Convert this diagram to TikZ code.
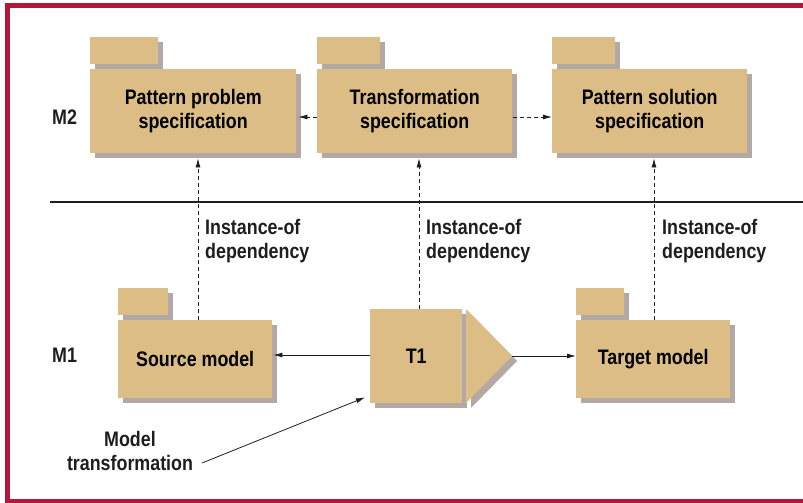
\documentclass[tikz,border=0pt]{standalone}
\usepackage{fontspec}
\setmainfont{Liberation Sans}[FakeStretch=0.85]
\usetikzlibrary{arrows.meta,shadows}
\definecolor{pkgfill}{HTML}{DCBD85}
\definecolor{pkgshade}{HTML}{B4A8A5}
\definecolor{framered}{HTML}{B5173A}
\definecolor{ink}{HTML}{1E1E1E}
\newcommand{\lbl}{\fontsize{21}{24}\selectfont\bfseries}

\begin{document}
\begin{tikzpicture}[x=1pt,y=-1pt,
  shade5/.style={drop shadow={shadow xshift=5pt,shadow yshift=-5pt,fill=pkgshade,opacity=1}},
  pkgbox/.style={shade5,fill=pkgfill,inner sep=0pt,align=center,font=\lbl,anchor=north west},
  pkgtab/.style={shade5,fill=pkgfill,inner sep=0pt,anchor=south west,minimum height=27pt},
  txt/.style={font=\lbl,align=left,inner sep=0pt,text=ink},
  dep/.style={draw=ink,line width=0.8pt,dash pattern=on 4pt off 3pt,-{Latex[length=9pt,width=5pt]}},
  flow/.style={draw=ink,line width=0.8pt,-{Latex[length=9pt,width=5pt]}}
]
\useasboundingbox (0,0) rectangle (803,503);
\fill[white] (0,0) rectangle (803,503);
% outer frame, open on the right
\draw[framered,line width=5pt] (803,5.5) -- (7.5,5.5) -- (7.5,501) -- (803,501);

% level separator
\draw[ink,line width=2.6pt] (50,202) -- (803,202);

% level labels
\node[txt,anchor=west] (m2) at (52,117) {M2};
\node[txt,anchor=west] (m1) at (52,355) {M1};

% M2 packages
\node[pkgtab,minimum width=68pt] (ppTab) at (90,64) {};
\node[pkgbox,minimum width=206pt,minimum height=84pt] (PP) at (90,69) {Pattern problem\\specification};
\node[pkgtab,minimum width=63pt] (tsTab) at (317,64) {};
\node[pkgbox,minimum width=195pt,minimum height=84pt] (TS) at (317,69) {Transformation\\specification};
\node[pkgtab,minimum width=63pt] (psTab) at (552,64) {};
\node[pkgbox,minimum width=195pt,minimum height=84pt] (PS) at (552,69) {Pattern solution\\specification};

% M1 packages
\node[pkgtab,minimum width=50pt] (smTab) at (118,315) {};
\node[pkgbox,minimum width=154pt,minimum height=78pt] (SM) at (118,320) {Source model};
\node[pkgtab,minimum width=48pt] (tmTab) at (576,315) {};
\node[pkgbox,minimum width=154pt,minimum height=78pt] (TM) at (576,320) {Target model};

% transformation T1: box plus pointing head
\node[pkgbox,minimum width=92pt,minimum height=94pt] (T1) at (370,309) {T1};
\path[fill=pkgfill,shade5] (466,309) -- (512,356) -- (466,403) -- cycle;
\coordinate (T1tip) at (512,356);

% flows between M2 packages
\draw[dep] (TS.west |- 0,117) -- ([xshift=2pt]PP.east |- 0,117);
\draw[dep] ([xshift=1pt]TS.east |- 0,117) -- (PS.west |- 0,117);

% instance-of dependencies
\draw[dep] (SM.north -| 198,0) -- ([yshift=-5pt]PP.south -| 198,0);
\draw[dep] (T1.north -| 419,0) -- ([yshift=-5pt]TS.south -| 419,0);
\draw[dep] (TM.north -| 654,0) -- ([yshift=-5pt]PS.south -| 654,0);

\node[txt,anchor=west] (d1) at (205,241) {Instance-of\\dependency};
\node[txt,anchor=west] (d2) at (426,241) {Instance-of\\dependency};
\node[txt,anchor=west] (d3) at (662,241) {Instance-of\\dependency};

% model flows
\draw[flow] (T1.west |- 0,355) -- ([xshift=1pt]SM.east |- 0,355);
\draw[flow] (T1tip) -- (TM.west |- 0,356);

% callout
\node[txt,align=center] (MT) at (130,451) {Model\\transformation};
\coordinate (mtFrom) at (202,463);
\draw[flow] (mtFrom) -- ([shift={(-5,-6)}]T1.south west);
\end{tikzpicture}
\end{document}
